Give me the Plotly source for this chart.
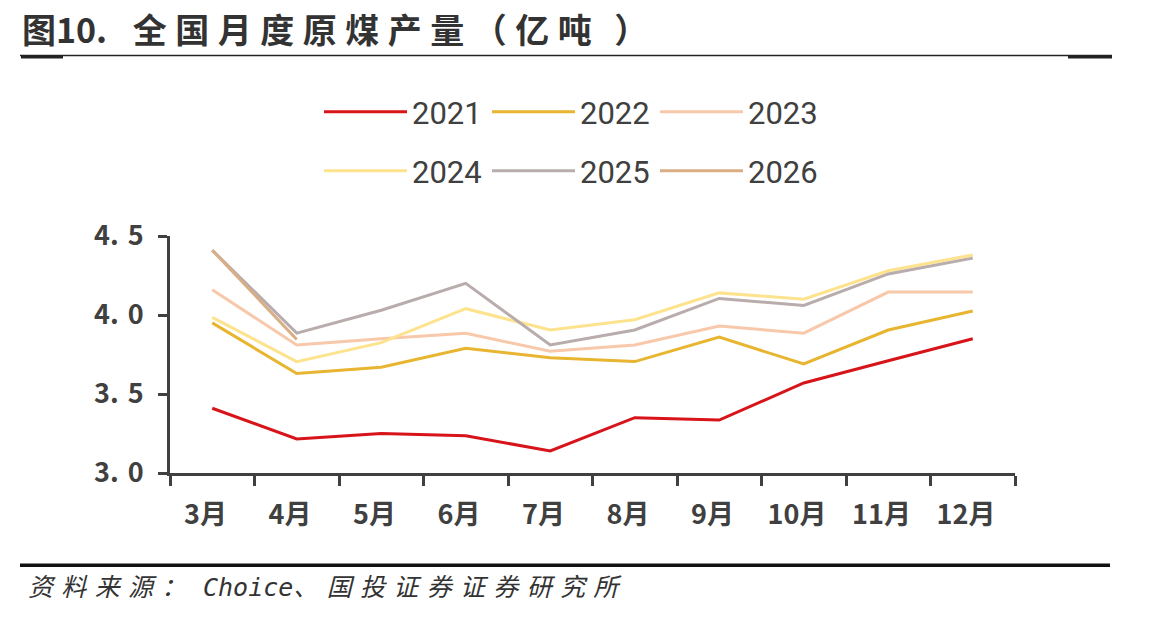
import plotly.graph_objects as go

months = ["3月", "4月", "5月", "6月", "7月", "8月", "9月", "10月", "11月", "12月"]
y2021 = [3.41, 3.215, 3.25, 3.235, 3.14, 3.35, 3.335, 3.57, 3.71, 3.85]
y2022 = [3.95, 3.63, 3.67, 3.79, 3.73, 3.705, 3.86, 3.69, 3.905, 4.025]
y2023 = [4.16, 3.81, 3.85, 3.885, 3.77, 3.81, 3.93, 3.885, 4.145, 4.145]
y2024 = [3.985, 3.705, 3.825, 4.04, 3.905, 3.97, 4.14, 4.10, 4.28, 4.38]
y2025 = [4.41, 3.885, 4.03, 4.20, 3.81, 3.905, 4.105, 4.06, 4.26, 4.36]
y2026 = [4.41, 3.845]
series_names = ["2021", "2022", "2023", "2024", "2025", "2026"]
series_vals = [y2021, y2022, y2023, y2024, y2025, y2026]
colors = ["#D7141A", "#E8B530", "#F8C8AA", "#FDE38E", "#B8ACAC", "#D9AE85"]
ytick_vals = [3.0, 3.5, 4.0, 4.5]
ytick_text = ["3.\u20040", "3.\u20045", "4.\u20040", "4.\u20045"]
xtick_text = [m + "\u2002" for m in months]

W, H = 1156, 619
L, R, T, B = 170, 1015, 236, 473  # plot area in pixels

fig = go.Figure()
for i, (name, vals, col) in enumerate(zip(series_names, series_vals, colors)):
    fig.add_trace(go.Scatter(
        x=months[:len(vals)], y=vals, name=name, mode="lines",
        line=dict(color=col, width=3),
        legend="legend" if i < 3 else "legend2",
    ))

def px(x):
    return (x - L) / (R - L)

def py(y):
    return (B - y) / (B - T)

legend_common = dict(
    orientation="h", xref="container", yref="container",
    xanchor="left", yanchor="top",
    font=dict(family="Roboto, sans-serif", size=31, color="#404040"),
    itemwidth=83, entrywidth=70, entrywidthmode="pixels",
    bgcolor="rgba(0,0,0,0)", tracegroupgap=0,
)

sp = "\u2005"
title_text = ("图10.\u2002\u2005" + sp.join(list("全国月度原煤产量（亿吨")) + "\u2004\u2004）")
src_cjk1 = "\u2004".join(list("资料来源："))
src_cjk2 = "\u2004".join(list("国投证券证券研究所"))
src_text = (src_cjk1 + "\u2004\u2004" +
            "<span style='font-family:DejaVu Sans Mono'>Choice</span>" +
            "、\u2004" + src_cjk2)

fig.update_layout(
    width=W, height=H,
    margin=dict(l=L, r=W - R, t=T, b=H - B),
    paper_bgcolor="white", plot_bgcolor="white",
    showlegend=True,
    legend=dict(x=319 / W, y=1 - 85 / H, **legend_common),
    legend2=dict(x=319 / W, y=1 - 144 / H, **legend_common),
    xaxis=dict(
        type="category", range=[-0.5, 9.5], tickson="boundaries",
        tickvals=months, ticktext=xtick_text,
        showline=True, linecolor="#404040", linewidth=3,
        ticks="outside", ticklen=10, tickwidth=3, tickcolor="#404040",
        showgrid=False, zeroline=False,
        tickfont=dict(family="Noto Sans CJK SC", size=27, color="#404040", weight="bold"),
        ticklabelstandoff=16,
    ),
    yaxis=dict(
        range=[3.0, 4.5], tickvals=ytick_vals, ticktext=ytick_text,
        showline=True, linecolor="#404040", linewidth=3,
        ticks="outside", ticklen=9, tickwidth=3, tickcolor="#404040",
        showgrid=False, zeroline=False,
        tickfont=dict(family="Noto Sans CJK SC", size=27, color="#404040", weight="bold"),
        ticklabelstandoff=9,
    ),
    shapes=[
        dict(type="line", xref="paper", yref="paper", x0=px(20), x1=px(1112), y0=py(55.5), y1=py(55.5),
             line=dict(color="#222222", width=1.5)),
        dict(type="rect", xref="paper", yref="paper", x0=px(21), x1=px(63), y0=py(55), y1=py(58.5),
             line=dict(width=0), fillcolor="#222222"),
        dict(type="rect", xref="paper", yref="paper", x0=px(1068), x1=px(1112), y0=py(55), y1=py(58.5),
             line=dict(width=0), fillcolor="#222222"),
        dict(type="rect", xref="paper", yref="paper", x0=px(20), x1=px(1110), y0=py(563.5), y1=py(567),
             line=dict(width=0), fillcolor="#111111"),
    ],
    annotations=[
        dict(text=title_text, xref="paper", yref="paper", x=px(20), y=py(28),
             xanchor="left", yanchor="middle", showarrow=False,
             font=dict(family="Noto Sans CJK SC", size=34, color="#333333", weight="bold")),
        dict(text=src_text, xref="paper", yref="paper", x=px(26), y=py(585),
             xanchor="left", yanchor="middle", showarrow=False,
             font=dict(family="Noto Sans CJK SC", size=25, color="#333333", style="italic")),
    ],
)

fig.write_html("out.html")
